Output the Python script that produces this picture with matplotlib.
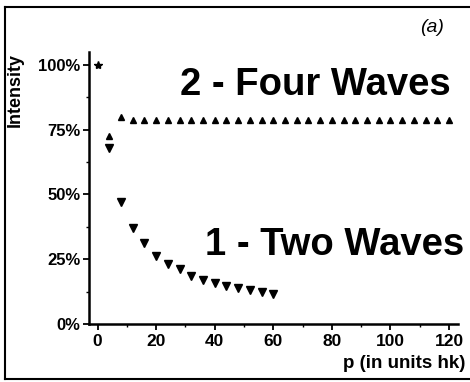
import matplotlib
matplotlib.use('Agg')
import matplotlib.pyplot as plt
from matplotlib.lines import Line2D
from matplotlib.ticker import MultipleLocator, FuncFormatter

# Data (p in units hk, intensity in %)
p_start = [0]
i_start = [100]

p_four = [4, 8, 12, 16, 20, 24, 28, 32, 36, 40, 44, 48, 52, 56, 60,
          64, 68, 72, 76, 80, 84, 88, 92, 96, 100, 104, 108, 112, 116, 120]
i_four = [72.5, 79.7, 78.6, 78.8, 78.7, 78.8, 78.6, 78.8, 78.7, 78.8, 78.6, 78.8, 78.7, 78.8, 78.6,
          78.8, 78.7, 78.8, 78.6, 78.8, 78.7, 78.8, 78.6, 78.8, 78.7, 78.8, 78.6, 78.8, 78.7, 78.9]

p_two = [4, 8, 12, 16, 20, 24, 28, 32, 36, 40, 44, 48, 52, 56, 60]
i_two = [67.8, 47.0, 37.2, 31.1, 26.4, 23.2, 21.4, 18.5, 17.0, 15.7, 14.7, 13.8, 13.0, 12.4, 11.7]

x_ticks = [0, 20, 40, 60, 80, 100, 120]
y_ticks = [0, 25, 50, 75, 100]

plt.rcParams['font.family'] = ['Liberation Sans', 'DejaVu Sans']
plt.rcParams['font.weight'] = 'bold'

fig = plt.figure(figsize=(4.7, 3.82), dpi=100)
ax = fig.add_axes([0.189, 0.152, 0.785, 0.712])

ax.plot(p_start, i_start, linestyle='none', marker='*', color='black', markersize=6)
ax.plot(p_four, i_four, linestyle='none', marker='^', color='black', markersize=5)
ax.plot(p_two, i_two, linestyle='none', marker='v', color='black', markersize=5.5)

ax.set_xlim(-3, 123)
ax.set_ylim(0, 105)
ax.set_xticks(x_ticks)
ax.set_yticks(y_ticks)
ax.xaxis.set_minor_locator(MultipleLocator(10))
ax.yaxis.set_minor_locator(MultipleLocator(12.5))
ax.yaxis.set_major_formatter(FuncFormatter(lambda v, pos: f'{int(v)}%'))

for side in ['top', 'right']:
    ax.spines[side].set_visible(False)
for side in ['left', 'bottom']:
    ax.spines[side].set_linewidth(1.8)

ax.tick_params(which='major', direction='out', length=4, width=1.3, pad=2)
ax.tick_params(axis='x', which='major', labelsize=12.5, pad=3)
ax.tick_params(axis='y', which='major', labelsize=12)
ax.tick_params(which='minor', direction='out', length=2.5, width=1.0)
for lab in ax.get_xticklabels() + ax.get_yticklabels():
    lab.set_fontweight('bold')

fig.text(315 / 470, 1 - 85 / 382, '2 - Four Waves', ha='center', va='center',
         fontsize=27.5, fontweight='bold')
fig.text(335 / 470, 1 - 245 / 382, '1 - Two Waves', ha='center', va='center',
         fontsize=27.5, fontweight='bold')
fig.text(432 / 470, 1 - 27 / 382, '(a)', ha='center', va='center',
         fontsize=14, fontstyle='italic', fontweight='normal')
fig.text(15 / 470, 1 - 90 / 382, 'Intensity', ha='center', va='center',
         rotation=90, fontsize=13, fontweight='bold')
fig.text(465 / 470, 1 - 364 / 382, 'p (in units hk)', ha='right', va='center',
         fontsize=13.5, fontweight='bold')

# frame around the figure
fig.add_artist(Line2D([5 / 470, 1], [1 - 7 / 382, 1 - 7 / 382], color='black', lw=1.5))
fig.add_artist(Line2D([5 / 470, 5 / 470], [1 - 7 / 382, 1 - 379 / 382], color='black', lw=1.5))
fig.add_artist(Line2D([5 / 470, 1], [1 - 379 / 382, 1 - 379 / 382], color='black', lw=1.5))

fig.savefig('out.png', dpi=100)
